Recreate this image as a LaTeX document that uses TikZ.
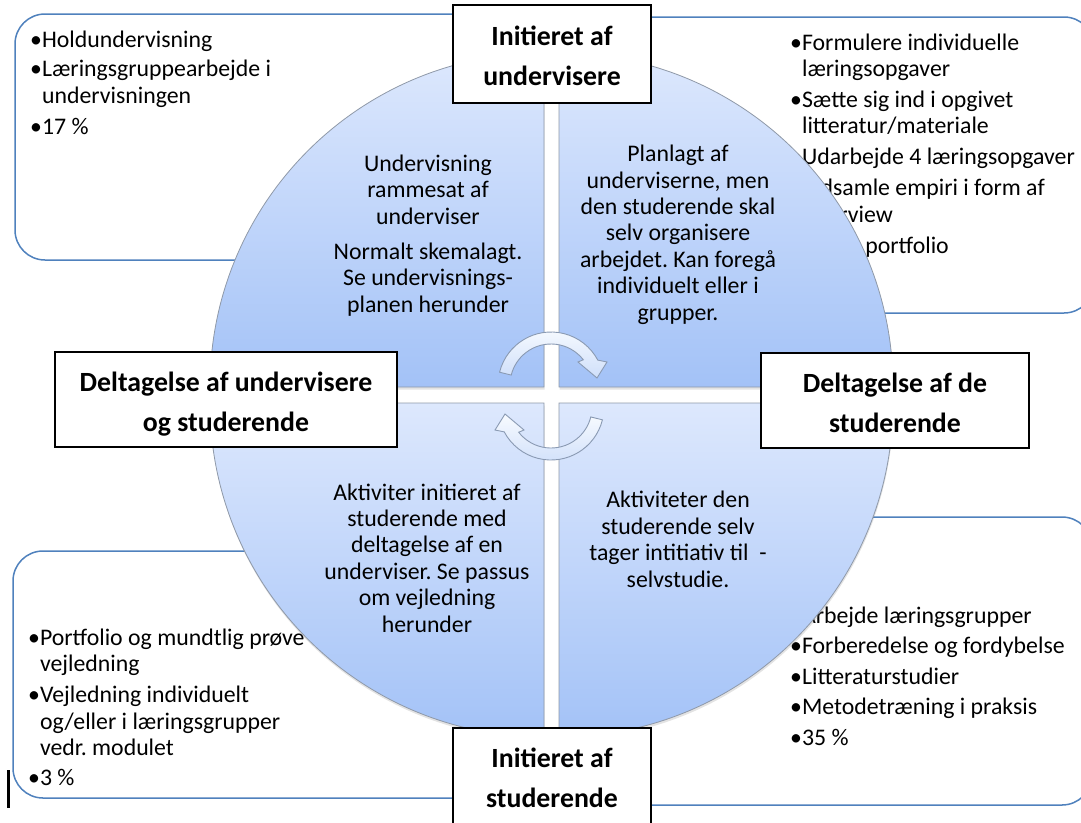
\documentclass[tikz,border=0pt]{standalone}
\usepackage{fontspec}
\setmainfont{Carlito}
\usetikzlibrary{shadows}
\frenchspacing
\definecolor{boxblue}{HTML}{4F81BD}
\definecolor{qlight}{HTML}{DDE8FD}
\definecolor{qdark}{HTML}{A3C2F7}
\definecolor{qedge}{HTML}{8F99A8}
\definecolor{aedge}{HTML}{8A9AB3}
\definecolor{alight}{HTML}{F8FBFF}
\definecolor{adark}{HTML}{CFDFFA}
\begin{document}
\begin{tikzpicture}[x=1pt,y=-1pt,
  roundbox/.style={draw=boxblue, line width=1.5pt, fill=white, rounded corners=30pt},
  bodytext/.style={font=\fontsize{23.8}{26.4}\selectfont, inner sep=0pt, text=black},
  listtext/.style={bodytext, align=left, anchor=base west},
  circtext/.style={bodytext, align=center, anchor=base},
  quad/.style={draw=qedge, line width=0.8pt, top color=qlight, bottom color=qdark,
    drop shadow={opacity=0.22, shadow xshift=0.5pt, shadow yshift=-2.5pt}},
  lblbox/.style={draw=black, line width=1.8pt, fill=white, inner sep=0pt},
  lbltext/.style={font=\fontsize{27.8}{40}\selectfont\bfseries, align=center, anchor=base, inner sep=0pt},
  arrowsty/.style={draw=aedge, line width=0.9pt, top color=alight, bottom color=adark},
  cyclearrow/.pic={
    \path[arrowsty] (-166:53) arc[start angle=-166, end angle=-28, radius=53]
      -- (56,-23) -- (46,-7) -- (27,-23) -- (-38:41)
      arc[start angle=-38, end angle=-166, radius=41] -- cycle;
  }]
\useasboundingbox (0,0) rectangle (1081,822);
\clip (0,0) rectangle (1081,822);

% background rounded boxes
\draw[roundbox] (15,14) rectangle (500,260);
\draw[roundbox] (620,17) rectangle (1094,313);
\draw[roundbox] (13,551) rectangle (500,798);
\draw[roundbox] (620,517) rectangle (1092,805);

% list texts (anchored at the baseline of their last line)
\node[listtext] (tllist) at (30,134) {•Holdundervisning\\[2.6pt]
  •Læringsgruppearbejde i\\ \phantom{•}undervisningen\\[4.6pt]
  •17 \%};
\node[listtext] (trlist) at (790,253) {•Formulere individuelle\\ \phantom{•}læringsopgaver\\[4.5pt]
  •Sætte sig ind i opgivet\\ \phantom{•}litteratur/materiale\\[4.5pt]
  •Udarbejde 4 læringsopgaver\\[4.5pt]
  •Indsamle empiri i form af\\ \phantom{•}interview\\[4.5pt]
  •Skrive portfolio};
\node[listtext] (bllist) at (28,785) {•Portfolio og mundtlig prøve\\ \phantom{•}vejledning\\[4.5pt]
  •Vejledning individuelt\\ \phantom{•}og/eller i læringsgrupper\\ \phantom{•}vedr. modulet\\[3pt]
  •3 \%};
\node[listtext] (brlist) at (790,745) {•Arbejde læringsgrupper\\[4pt]
  •Forberedelse og fordybelse\\[4pt]
  •Litteraturstudier\\[4pt]
  •Metodetræning i praksis\\[4pt]
  •35 \%};

% quadrants
\path[quad] (544,387) -- (210,387) arc[start angle=180, end angle=270, radius=334] -- cycle;
\path[quad] (559,387) -- (559,53) arc[start angle=270, end angle=360, radius=334] -- cycle;
\path[quad] (544,403) -- (544,737) arc[start angle=90, end angle=180, radius=334] -- cycle;
\path[quad] (559,403) -- (893,403) arc[start angle=0, end angle=90, radius=334] -- cycle;

% circle texts (anchored at the baseline of their last line)
\node[circtext] (tltext) at (428,312) {Undervisning\\rammesat af\\underviser\\[8.6pt]
  Normalt skemalagt.\\Se undervisnings-\\planen herunder};
\node[circtext] (trtext) at (678,320) {Planlagt af\\underviserne, men\\den studerende skal\\selv organisere\\arbejdet. Kan foregå\\individuelt eller i\\grupper.};
\node[circtext] (bltext) at (427,632) {Aktiviter initieret af\\studerende med\\deltagelse af en\\underviser. Se passus\\om vejledning\\herunder};
\node[circtext] (brtext) at (678,587) {Aktiviteter den\\studerende selv\\tager intitiativ til\ \ -\\selvstudie.};

% cycle arrows
\pic at (551,385) {cyclearrow};
\pic[rotate=180] at (551,407) {cyclearrow};

% label boxes
\node[lblbox, minimum width=198pt, minimum height=98pt] (topbox) at (552,54) {};
\node[lbltext] (toptext) at (552,85) {Initieret af\\undervisere};
\node[lblbox, minimum width=342pt, minimum height=95pt] (leftbox) at (226,399.5) {};
\node[lbltext] (lefttext) at (226,431) {Deltagelse af undervisere\\og studerende};
\node[lblbox, minimum width=268pt, minimum height=95pt] (rightbox) at (895,400.5) {};
\node[lbltext] (righttext) at (895,432) {Deltagelse af de\\studerende};
\node[lblbox, minimum width=198pt, minimum height=110pt] (botbox) at (552,783) {};
\node[lbltext] (bottext) at (552,807) {Initieret af\\studerende};

% stray mark
\fill[black] (7,770) rectangle (10,808);
\end{tikzpicture}
\end{document}
